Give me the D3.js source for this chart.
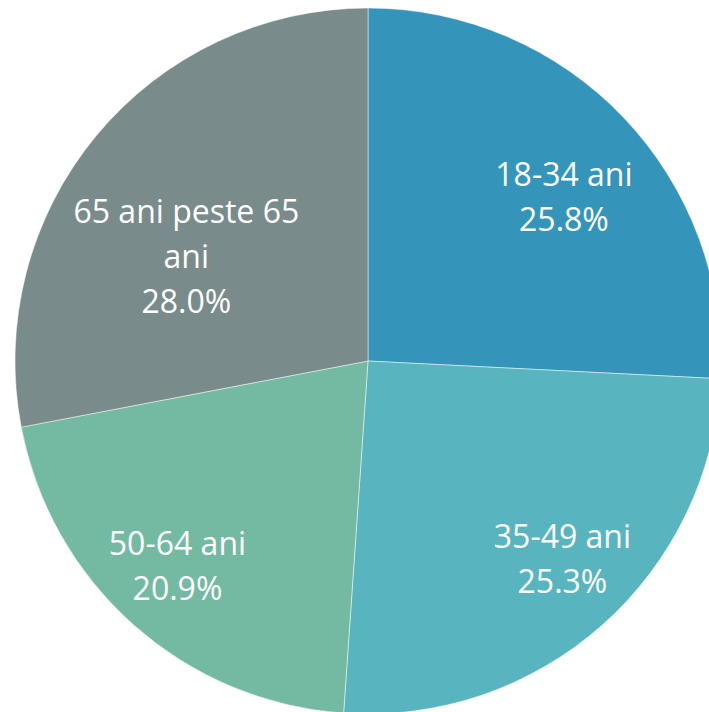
<!DOCTYPE html>
<html><head><meta charset="utf-8">
<script src="https://cdn.jsdelivr.net/npm/d3@7"></script>
<style>html,body{margin:0;padding:0;background:#fff;overflow:hidden}</style>
</head><body>
<svg id="chart" width="709" height="712"></svg>
<script>
const categories = ["18-34 ani", "35-49 ani", "50-64 ani", "65 ani peste 65 ani"];
const values = [25.8, 25.3, 20.9, 28.0];
const percentLabels = ["25.8%", "25.3%", "20.9%", "28.0%"];
const colors = ["#3594BA", "#58B4BF", "#74BAA3", "#798B8B"];
const labelLines = [["18-34 ani"], ["35-49 ani"], ["50-64 ani"], ["65 ani peste 65", "ani"]];

const svg = d3.select("#chart");
const cx = 368, cy = 361, R = 353;
const g = svg.append("g").attr("transform", `translate(${cx},${cy})`);

const pie = d3.pie().sort(null).value(d => d)(values);
const arc = d3.arc().innerRadius(0).outerRadius(R);

g.selectAll("path").data(pie).join("path")
  .attr("d", arc)
  .attr("fill", (d, i) => colors[i])
  .attr("stroke", "#ffffff").attr("stroke-opacity", 0.6).attr("stroke-width", 0.8);

// label placement (layout, not data): radius and angle nudge per slice
const labelLayout = [{r: 256, da: 3.5}, {r: 277, da: -3}, {r: 279, da: 1.5}, {r: 210, da: -9.5}];
const lineH = 45;
pie.forEach((d, i) => {
  const mid = (d.startAngle + d.endAngle) / 2 + labelLayout[i].da * Math.PI / 180;
  const x = labelLayout[i].r * Math.sin(mid);
  const y = -labelLayout[i].r * Math.cos(mid);
  const lines = labelLines[i].concat([percentLabels[i]]);
  const t = g.append("text")
    .attr("text-anchor", "middle")
    .attr("font-family", "'Open Sans', sans-serif")
    .attr("font-size", 32)
    .attr("fill", "#ffffff");
  const y0 = y - (lines.length - 1) * lineH / 2;
  lines.forEach((ln, k) => {
    t.append("tspan").attr("x", x).attr("y", y0 + k * lineH)
      .attr("dominant-baseline", "central").text(ln);
  });
});
</script>
</body></html>
